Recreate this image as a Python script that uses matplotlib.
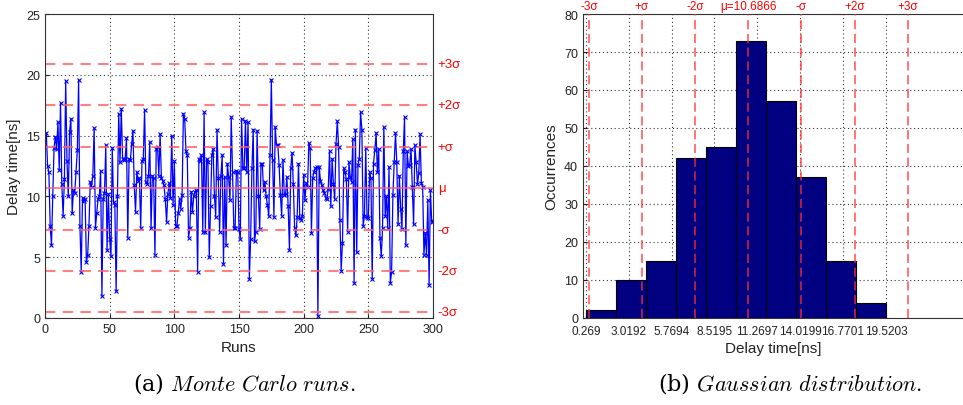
import numpy as np
import matplotlib
matplotlib.use("Agg")
from matplotlib import pyplot as plt
import matplotlib.transforms as mtransforms

plt.rcParams['font.family'] = ['Liberation Sans', 'DejaVu Sans']
plt.rcParams['mathtext.fontset'] = 'cm'

# Monte Carlo runs (delay time in ns)
delay = [
    15.2, 12.5, 12.0, 7.6, 6.0, 10.0, 14.0, 14.9, 13.9, 16.1,
    12.2, 17.7, 11.0, 8.4, 11.4, 19.5, 12.9, 10.0, 15.3, 16.4,
    8.6, 10.5, 10.3, 12.0, 13.8, 19.6, 7.6, 3.8, 9.9, 9.6,
    9.8, 4.6, 5.2, 7.6, 11.2, 10.8, 11.7, 15.6, 7.4, 8.6,
    9.8, 10.0, 12.1, 1.8, 9.8, 10.3, 14.2, 5.6, 10.2, 6.5,
    5.1, 14.0, 9.5, 9.3, 2.2, 10.0, 16.8, 12.8, 17.2, 13.1,
    13.0, 13.1, 14.8, 6.6, 13.1, 13.0, 14.3, 15.4, 10.9, 8.7,
    12.0, 11.3, 11.5, 7.4, 12.9, 13.1, 17.1, 11.2, 11.0, 11.7,
    14.5, 7.4, 11.7, 11.5, 5.2, 13.9, 14.1, 11.7, 15.1, 11.5,
    11.3, 10.9, 9.8, 7.9, 10.2, 11.1, 9.9, 15.0, 9.3, 12.9,
    7.6, 7.6, 8.6, 9.8, 9.0, 10.1, 16.8, 16.4, 13.7, 13.4,
    6.6, 7.4, 10.4, 8.7, 10.0, 10.4, 10.5, 3.8, 13.1, 12.9,
    13.4, 7.1, 16.9, 7.1, 13.1, 12.8, 5.0, 9.2, 13.4, 13.9,
    10.0, 8.3, 15.5, 11.5, 7.1, 11.7, 13.4, 4.4, 11.6, 6.0,
    12.7, 11.6, 9.7, 16.5, 12.0, 7.4, 7.4, 12.1, 12.0, 7.3,
    6.5, 16.4, 12.3, 12.3, 16.2, 12.0, 16.1, 3.2, 6.5, 12.3,
    15.5, 6.3, 7.1, 15.4, 10.0, 7.3, 12.7, 12.7, 10.5, 11.2,
    10.0, 9.3, 8.4, 13.4, 19.6, 13.0, 8.3, 15.7, 14.2, 14.2,
    12.6, 10.1, 8.4, 13.0, 10.1, 10.2, 11.6, 9.2, 5.6, 12.3,
    13.6, 11.0, 7.4, 6.8, 8.3, 12.7, 8.2, 8.1, 8.4, 11.8,
    9.7, 11.1, 10.8, 14.4, 14.0, 7.0, 11.5, 12.0, 12.3, 12.4,
    0.2, 12.4, 11.3, 10.9, 10.5, 10.3, 9.9, 9.8, 10.6, 13.7,
    9.2, 13.1, 11.0, 9.8, 14.3, 16.2, 14.1, 8.1, 3.9, 6.2,
    12.3, 12.0, 11.4, 7.1, 12.8, 11.6, 11.2, 14.7, 2.9, 15.5,
    5.4, 12.6, 13.1, 16.9, 15.5, 7.6, 8.4, 14.0, 8.3, 8.2,
    12.0, 11.5, 3.2, 12.7, 13.8, 15.2, 12.0, 13.9, 6.6, 5.1,
    7.4, 15.7, 8.4, 10.0, 7.4, 12.4, 2.9, 3.8, 10.1, 12.8,
    15.2, 12.8, 7.7, 11.7, 9.0, 7.3, 13.7, 16.5, 6.0, 13.7,
    12.5, 12.6, 13.9, 10.8, 7.7, 14.2, 12.8, 11.0, 11.9, 15.1,
    11.1, 10.8, 5.2, 7.0, 5.2, 9.7, 2.7, 10.5, 7.9, 8.0,
]
runs = np.arange(1, len(delay) + 1)

mu = 10.6866
sigma = 3.41
k_left = [3, 2, 1, 0, -1, -2, -3]
labels_left = ['+3σ', '+2σ', '+σ', 'μ', '-σ', '-2σ', '-3σ']

# histogram
bin_min, bin_max = 0.269, 19.5203
counts = [2, 10, 15, 42, 45, 73, 57, 37, 15, 4]
tick_labels = ['0.269', '3.0192', '5.7694', '8.5195', '11.2697', '14.0199', '16.7701', '19.5203']
k_right = [-3, -2, -1, 0, 1, 2, 3]
labels_right = ['-3σ', '+σ', '-2σ', 'μ=10.6866', '-σ', '+2σ', '+3σ']

fig = plt.figure(figsize=(9.63, 4.06), dpi=100)
ax1 = fig.add_axes([45/963, 1-319/406, (433-45)/963, (319-15)/406])
ax2 = fig.add_axes([583/963, 1-319/406, (963-583)/963, (319-15)/406])

def matlab_style(ax):
    ax.grid(True, color='black', ls=(0, (1, 2.5)), lw=0.8, alpha=0.8)
    ax.set_axisbelow(True)
    ax.tick_params(direction='in', labelsize=9, length=3, colors='#222222',
                   top=False, right=False)
    for s in ax.spines.values():
        s.set_color('#333333')
        s.set_linewidth(0.8)

# (a) Monte Carlo runs
matlab_style(ax1)
ax1.plot(runs, delay, color='#0000ff', lw=0.9, marker='x', ms=3.5, mew=0.8)
trans = mtransforms.blended_transform_factory(ax1.transAxes, ax1.transData)
for k, lab in zip(k_left, labels_left):
    y = mu + k*sigma
    if k == 0:
        ax1.axhline(y, color='#ff6060', lw=1.3, alpha=0.8)
    else:
        ax1.axhline(y, color='#ff6060', lw=1.5, ls=(0, (5, 3.5)), alpha=0.8)
    ax1.text(1.012, y, lab, transform=trans, color='red', fontsize=9.5,
             va='center', ha='left')
ax1.set_xlim(0, 300)
ax1.set_ylim(0, 25)
ax1.set_xticks(np.arange(0, 301, 50))
ax1.set_yticks(np.arange(0, 26, 5))
ax1.set_xlabel('Runs', fontsize=11, color='#222222', labelpad=4)
ax1.set_ylabel('Delay time[ns]', fontsize=11, color='#222222', labelpad=4)

# (b) Gaussian distribution
matlab_style(ax2)
edges = np.linspace(bin_min, bin_max, len(counts) + 1)
ax2.bar(edges[:-1], counts, width=np.diff(edges), align='edge',
        color='#000080', edgecolor='black', lw=0.8, zorder=2)
trans2 = mtransforms.blended_transform_factory(ax2.transData, ax2.transAxes)
for k, lab in zip(k_right, labels_right):
    x = mu + k*sigma
    ax2.axvline(x, color='#ff3030', lw=1.1, ls=(0, (6, 3)), alpha=0.85, zorder=3)
    ax2.text(x, 1.005, lab, transform=trans2, color='red', fontsize=8.5,
             va='bottom', ha='center')
ax2.set_xlim(0.08, 24.47)
ax2.set_ylim(0, 80)
ax2.set_xticks(np.linspace(bin_min, bin_max, len(tick_labels)))
ax2.set_xticklabels(tick_labels, fontsize=8.5)
ax2.tick_params(axis='x', pad=5)
ax2.set_yticks(np.arange(0, 81, 10))
ax2.set_xlabel('Delay time[ns]', fontsize=11, color='#222222', labelpad=3)
ax2.set_ylabel('Occurrences', fontsize=11, color='#222222', labelpad=4)
ax2.spines['right'].set_visible(False)

fig.text(244/963, 1-384/406, r'(a) $\mathit{Monte\ Carlo\ runs.}$', fontsize=16,
         ha='center', va='center', family='serif')
fig.text(790/963, 1-384/406, r'(b) $\mathit{Gaussian\ distribution.}$', fontsize=16,
         ha='center', va='center', family='serif')

fig.savefig('out.png', dpi=100)
